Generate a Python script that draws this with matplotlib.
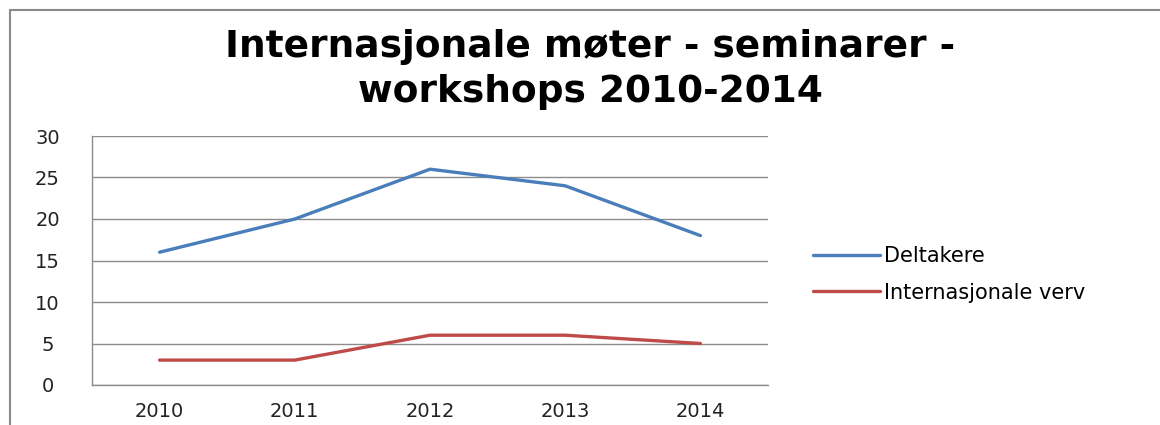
import matplotlib.pyplot as plt
from matplotlib.patches import Rectangle

years = ['2010', '2011', '2012', '2013', '2014']
deltakere = [16, 20, 26, 24, 18]
verv = [3, 3, 6, 6, 5]

fig = plt.figure(figsize=(11.6, 4.25), dpi=100)
ax = fig.add_axes([92/1160, 1 - 385/425, (768-92)/1160, (385-136)/425])

x = range(len(years))
ax.plot(x, deltakere, color='#4A7EBB', lw=2.4, label='Deltakere', solid_capstyle='round')
ax.plot(x, verv, color='#BE4B48', lw=2.4, label='Internasjonale verv', solid_capstyle='round')

ax.set_xlim(-0.5, 4.5)
ax.set_ylim(0, 30)
ax.set_yticks(range(0, 31, 5))
ax.set_xticks(list(x))
ax.set_xticklabels(years)
ax.tick_params(length=0, labelsize=14, colors='#222222', pad=12)
ax.tick_params(axis='y', pad=32)
for lab in ax.get_yticklabels():
    lab.set_horizontalalignment('center')
ax.grid(axis='y', color='#8c8c8c', lw=1)
ax.set_axisbelow(True)
for s in ['top', 'right']:
    ax.spines[s].set_visible(False)
for s in ['left', 'bottom']:
    ax.spines[s].set_color('#8c8c8c')
    ax.spines[s].set_linewidth(1)

fig.text(0.509, 1 - 47/425, 'Internasjonale møter - seminarer -', ha='center', va='center',
         fontsize=27, fontweight='bold')
fig.text(0.509, 1 - 92/425, 'workshops 2010-2014', ha='center', va='center',
         fontsize=27, fontweight='bold')

fig.legend(loc='upper left', bbox_to_anchor=(813/1160, 1 - 246/425), frameon=False,
           fontsize=15, handlelength=3.2, handletextpad=0.2, labelspacing=0.8,
           borderpad=0, borderaxespad=0)

fig.patches.append(Rectangle((10/1160, -0.1), 1.2, 1 - 10/425 + 0.1, transform=fig.transFigure,
                             fill=False, edgecolor='#8a8a8a', lw=1.5, clip_on=False))

fig.savefig('out.png', dpi=100)
